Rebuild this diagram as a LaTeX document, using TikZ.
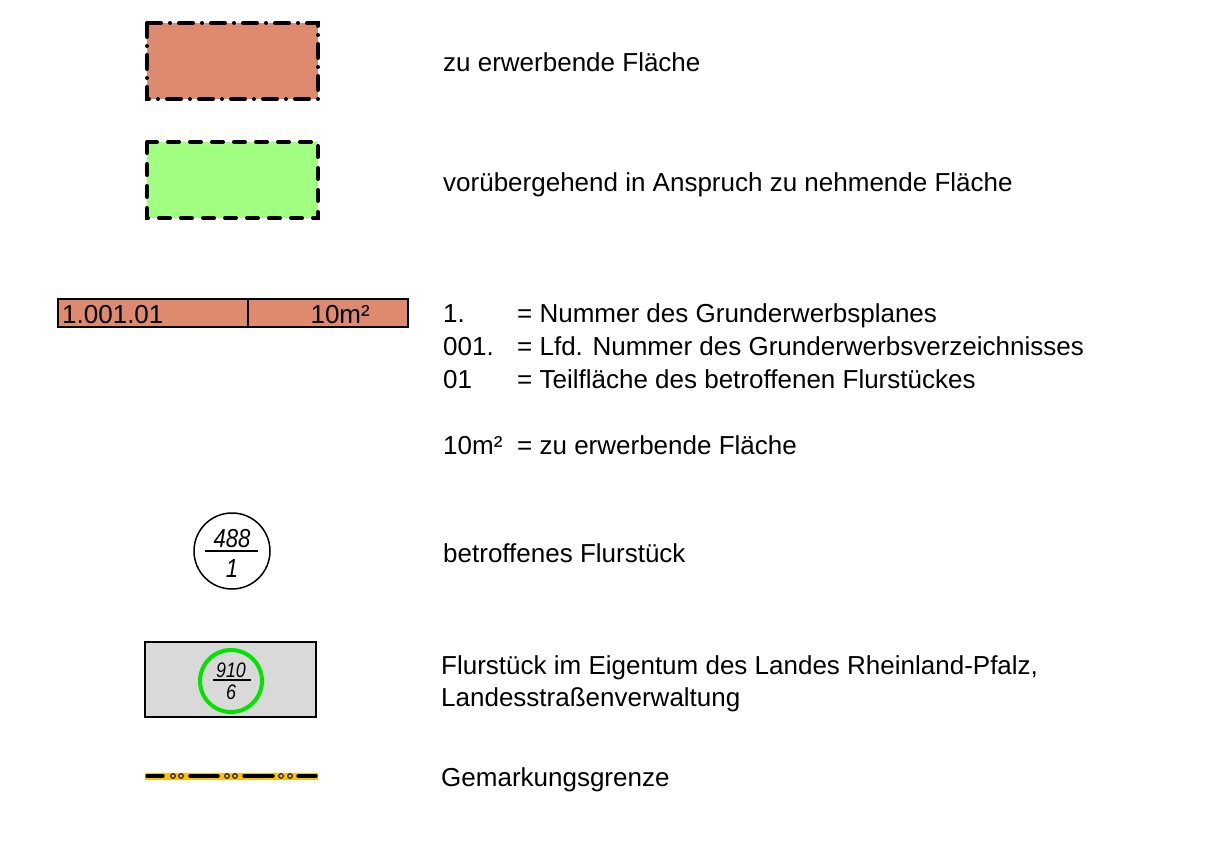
\documentclass[tikz,border=0pt]{standalone}
\usepackage{fontspec}
\setmainfont{Liberation Sans}
\usetikzlibrary{positioning}
\definecolor{erwerb}{RGB}{222,138,111}
\definecolor{vorueb}{RGB}{160,255,128}
\definecolor{landgrau}{RGB}{217,217,217}
\definecolor{landgruen}{RGB}{0,228,0}
\definecolor{gemgelb}{RGB}{255,192,0}
\begin{document}
\begin{tikzpicture}[x=1pt,y=-1pt,
    legtext/.style={anchor=base west,inner sep=0pt,font=\fontsize{26}{31}\selectfont},
    flaeche/.style={line width=4pt,line cap=round},
    fstnr/.style={inner sep=0pt,font=\fontsize{26}{28}\selectfont\itshape,xscale=0.85},
    fstklein/.style={fstnr,font=\fontsize{21}{22}\selectfont\itshape}
    ]
    \useasboundingbox (0,0) rectangle (1208,843);
    % Flaechen
    \draw[flaeche,fill=erwerb,dash pattern=on 14pt off 9pt on 0pt off 9pt] (147,23) rectangle (318,99);
    \node[legtext] (t1) at (443,71) {zu erwerbende Fläche};
    \draw[flaeche,fill=vorueb,dash pattern=on 11pt off 11pt] (147,142) rectangle (318,218);
    \node[legtext] (t2) at (443,191) {vorübergehend in Anspruch zu nehmende Fläche};
    % Nummernbalken
    \draw[line width=1.5pt,fill=erwerb] (58,299) rectangle (408,327);
    \draw[line width=1.5pt] (248,299) -- (248,327);
    \node[legtext] (nrl) at (62,323) {1.001.01};
    \node[legtext,anchor=base east] (nrr) at (370,323) {10m²};
    \node[legtext] (k1) at (443,322) {1.};
    \node[legtext] (k2) at (443,355) {001.};
    \node[legtext] (k3) at (443,388) {01};
    \node[legtext] (k4) at (443,454) {10m²};
    \node[legtext] (e1) at (517,322) {= Nummer des Grunderwerbsplanes};
    \node[legtext] (e2) at (517,355) {= Lfd. Nummer des Grunderwerbsverzeichnisses};
    \node[legtext] (e3) at (517,388) {= Teilfläche des betroffenen Flurstückes};
    \node[legtext] (e4) at (517,454) {= zu erwerbende Fläche};
    % Flurstueck
    \node[draw,circle,line width=1.5pt,minimum size=76pt] (fst) at (232,551) {};
    \draw[line width=1.5pt] (205,551) -- (258,551);
    \node[fstnr] (fstz) at (232,539) {488};
    \node[fstnr] (fstn) at (232,569) {1};
    \node[legtext] (t5) at (443,562) {betroffenes Flurstück};
    % Landeseigentum
    \draw[line width=2pt,fill=landgrau] (145,642) rectangle (316,717);
    \node[circle,draw=landgruen,line width=4pt,minimum size=62pt] (eigen) at (231,681) {};
    \draw[line width=1.2pt] (213,680) -- (251,680);
    \node[fstklein] (eigz) at (231,670) {910};
    \node[fstklein] (eign) at (231,692) {6};
    \node[legtext] (t6) at (441,674) {Flurstück im Eigentum des Landes Rheinland-Pfalz,};
    \node[legtext] (t7) at (441,706) {Landesstraßenverwaltung};
    % Gemarkungsgrenze
    \draw[gemgelb,line width=7pt] (145,776) -- (318,776);
    \foreach \a/\b in {145/165,188/220,242/275,296/318}
    {\draw[line width=3.5pt,line cap=round] (\a+2,776) -- (\b-2,776);}
    \foreach \x in {173,181,227,235,281,290}
    {\draw[line width=1pt,fill=gemgelb] (\x,776) circle (2.3pt);}
    \node[legtext] (t8) at (441,786) {Gemarkungsgrenze};
\end{tikzpicture}
\end{document}
